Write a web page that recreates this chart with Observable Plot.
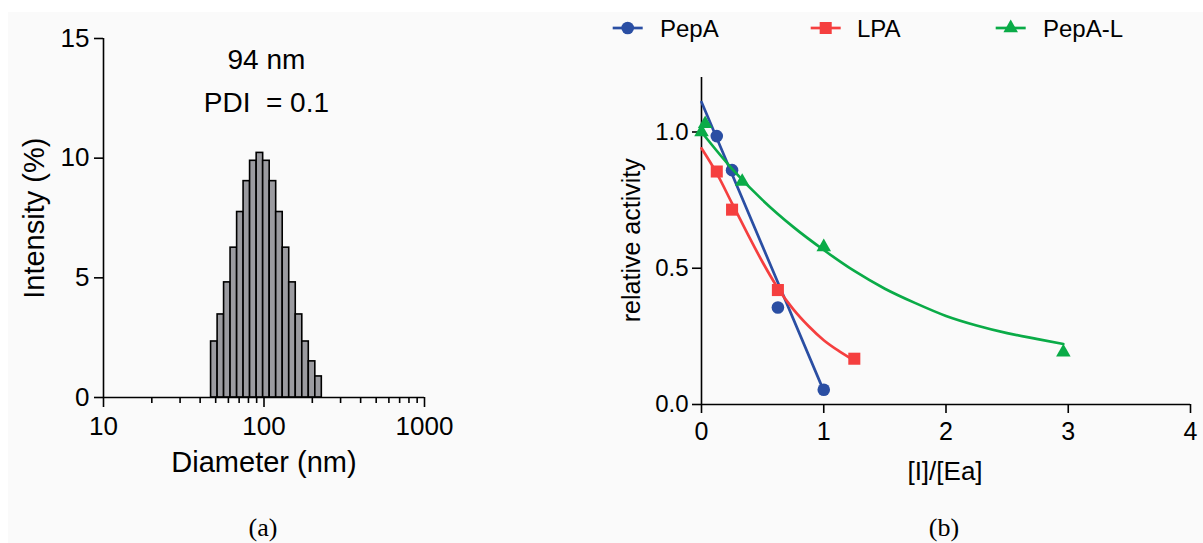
<!DOCTYPE html>
<html>
<head>
<meta charset="utf-8">
<script src="https://cdn.jsdelivr.net/npm/d3@7"></script>
<script src="https://cdn.jsdelivr.net/npm/@observablehq/plot@0.6"></script>
<style>
  html, body { margin: 0; padding: 0; background: #ffffff; }
  #root { position: relative; width: 1203px; height: 543px; overflow: hidden; font-family: "Liberation Sans", Arial, sans-serif; color: #000; }
  #panel { position: absolute; left: 8px; top: 12px; right: 0; bottom: 0; background: #fafafa; }
  .abs { position: absolute; line-height: 1; white-space: pre; }
  .plot { position: absolute; top: 0; }
  .cap { font-family: "Liberation Serif", "Times New Roman", serif; }
</style>
</head>
<body>
<div id="root">
  <div id="panel"></div>
</div>
<script>
// ---------- Panel (a): DLS size distribution ----------
const binEdgesNm = [46.8, 51.4, 56.4, 61.9, 68.0, 74.6, 81.9, 90.0, 98.8, 108.5, 119.1, 130.8, 143.6, 157.7, 173.2, 190.1, 208.8, 229.2];
const intensityPct = [2.34, 3.47, 4.81, 6.26, 7.75, 9.04, 9.89, 10.22, 9.89, 9.04, 7.75, 6.26, 4.81, 3.47, 2.34, 1.51, 0.88];
const diamMajorTicks = [10, 100, 1000];
const diamMinorTicks = [20, 30, 40, 50, 60, 70, 80, 90, 200, 300, 400, 500, 600, 700, 800, 900];
const intensityTicks = [0, 5, 10, 15];
const annotA = ["94 nm", "PDI  = 0.1"];
const annotAY = [14.1, 12.3];
const annotAX = 103.5;

// ---------- Panel (b): inhibition ----------
const seriesNames = ["PepA", "LPA", "PepA-L"];
const seriesColors = ["#2a4ea3", "#f53f3f", "#0aab47"];
const pepARatio = [0.125, 0.25, 0.625, 1.0];
const pepAAct   = [0.985, 0.86, 0.356, 0.054];
const lpaRatio  = [0.125, 0.25, 0.625, 1.25];
const lpaAct    = [0.855, 0.715, 0.42, 0.168];
const pepALRatio = [0, 0.03, 0.333, 1.0, 2.96];
const pepALAct   = [1.0, 1.03, 0.818, 0.578, 0.192];
// fitted curves
const pepAFitX = [0, 1.0];
const pepAFitY = [1.11, 0.05];
const lpaFitX = [0, 0.125, 0.25, 0.375, 0.5, 0.625, 0.75, 0.875, 1.0, 1.125, 1.21];
const lpaFitY = [0.94, 0.848, 0.738, 0.628, 0.522, 0.427, 0.35, 0.288, 0.236, 0.196, 0.172];
const pepALFitX = [0, 0.25, 0.5, 0.75, 1.0, 1.25, 1.5, 1.75, 2.0, 2.25, 2.5, 2.75, 2.96];
const pepALFitY = [1.0, 0.865, 0.75, 0.652, 0.567, 0.49, 0.425, 0.372, 0.325, 0.29, 0.262, 0.24, 0.222];
const ratioTicks = [0, 1, 2, 3, 4];
const actTicks = [0, 0.5, 1.0];

const root = document.getElementById("root");
const font = '"Liberation Sans", Arial, sans-serif';

// ----- left plot -----
const bins = intensityPct.map((v, i) => ({lo: binEdgesNm[i], hi: binEdgesNm[i + 1], v}));
const left = Plot.plot({
  width: 470, height: 490,
  marginLeft: 103, marginRight: 46, marginTop: 38, marginBottom: 93,
  x: {type: "log", domain: [10, 1000]},
  y: {domain: [0, 15]},
  style: {background: "transparent", fontFamily: font, fontSize: "26px", color: "#000", overflow: "visible"},
  marks: [
    Plot.rectY(bins, {x1: "lo", x2: "hi", y: "v", fill: "#9b9ba0", stroke: "#000", strokeWidth: 1.6}),
    Plot.ruleY([0], {stroke: "#000", strokeWidth: 1.6}),
    Plot.ruleX([10], {stroke: "#000", strokeWidth: 1.6}),
    Plot.axisX(diamMajorTicks, {tickSize: 10, tickPadding: 9, tickFormat: d => String(d), strokeWidth: 1.6, label: null, fontSize: 26}),
    Plot.axisX(diamMinorTicks, {tickSize: 6, tickFormat: () => "", strokeWidth: 1.6, label: null}),
    Plot.axisY(intensityTicks, {tickSize: 9, tickPadding: 5, tickFormat: d => String(d), strokeWidth: 1.6, label: null, fontSize: 26}),
    Plot.text(annotA, {x: () => annotAX, y: (d, i) => annotAY[i], text: d => d, fontSize: 28, fill: "#000"})
  ]
});
left.classList.add("plot");
left.style.left = "0px";
root.appendChild(left);

// ----- right plot -----
const mk = (xs, ys) => xs.map((x, i) => ({x, y: ys[i]}));
const right = Plot.plot({
  width: 603, height: 490,
  marginLeft: 101, marginRight: 13, marginTop: 77, marginBottom: 86,
  x: {domain: [0, 4]},
  y: {domain: [0, 1.2]},
  style: {background: "transparent", fontFamily: font, fontSize: "24px", color: "#000", overflow: "visible"},
  marks: [
    Plot.ruleY([0], {stroke: "#000", strokeWidth: 1.6}),
    Plot.ruleX([0], {stroke: "#000", strokeWidth: 1.6}),
    Plot.axisX(ratioTicks, {tickSize: 9, tickPadding: 9, tickFormat: d => String(d), strokeWidth: 1.6, label: null, fontSize: 25}),
    Plot.axisY(actTicks, {tickSize: 9, tickPadding: 4, tickFormat: d => d.toFixed(1), strokeWidth: 1.6, label: null, fontSize: 24}),
    Plot.line(mk(pepAFitX, pepAFitY), {x: "x", y: "y", stroke: seriesColors[0], strokeWidth: 2.7}),
    Plot.dot(mk(pepARatio, pepAAct), {x: "x", y: "y", fill: seriesColors[0], r: 6.3, symbol: "circle"}),
    Plot.line(mk(lpaFitX, lpaFitY), {x: "x", y: "y", stroke: seriesColors[1], strokeWidth: 2.7, curve: "monotone-x"}),
    Plot.dot(mk(lpaRatio, lpaAct), {x: "x", y: "y", fill: seriesColors[1], r: 6.8, symbol: "square"}),
    Plot.line(mk(pepALFitX, pepALFitY), {x: "x", y: "y", stroke: seriesColors[2], strokeWidth: 2.7, curve: "monotone-x"}),
    Plot.dot(mk(pepALRatio, pepALAct), {x: "x", y: "y", fill: seriesColors[2], r: 5.4, symbol: "triangle"})
  ]
});
right.classList.add("plot");
right.style.left = "600px";
root.appendChild(right);

// ----- HTML text (titles, captions) -----
function addText(txt, x, y, size, opts = {}) {
  const d = document.createElement("div");
  d.className = "abs" + (opts.cls ? " " + opts.cls : "");
  d.textContent = txt;
  d.style.fontSize = size + "px";
  d.style.left = x + "px";
  d.style.top = (y - 0.49 * size) + "px";
  let tf = "translateX(-50%)";
  if (opts.rotate) { tf = "translate(-50%, 0) rotate(-90deg)"; d.style.transformOrigin = "50% " + (0.49 * size) + "px"; }
  d.style.transform = tf;
  root.appendChild(d);
  return d;
}
addText("Intensity (%)", 34, 218, 29, {rotate: true});
addText("Diameter (nm)", 264, 462, 29);
addText("(a)", 263, 528, 26, {cls: "cap"});
addText("relative activity", 631, 240, 25, {rotate: true});
addText("[I]/[Ea]", 945, 471, 26);
addText("(b)", 944, 528, 26, {cls: "cap"});

// ----- legend -----
const legendX = [612.7, 810.7, 995.7];
const legendTextX = [660, 857, 1043];
const legendSymbols = ["circle", "square", "triangle"];
const legendY = 28;
const lg = document.createElementNS("http://www.w3.org/2000/svg", "svg");
lg.setAttribute("width", 1203); lg.setAttribute("height", 60);
lg.style.position = "absolute"; lg.style.left = "0px"; lg.style.top = "0px";
seriesNames.forEach((name, i) => {
  const x0 = legendX[i], cx = x0 + 15;
  const line = document.createElementNS(lg.namespaceURI, "line");
  line.setAttribute("x1", x0); line.setAttribute("x2", x0 + 30);
  line.setAttribute("y1", legendY); line.setAttribute("y2", legendY);
  line.setAttribute("stroke", seriesColors[i]); line.setAttribute("stroke-width", 2.7);
  lg.appendChild(line);
  const sym = {circle: d3.symbolCircle, square: d3.symbolSquare, triangle: d3.symbolTriangle}[legendSymbols[i]];
  const size = [Math.PI * 6.3 * 6.3, Math.PI * 6.8 * 6.8, Math.PI * 5.4 * 5.4][i];
  const p = document.createElementNS(lg.namespaceURI, "path");
  p.setAttribute("d", d3.symbol(sym, size)());
  p.setAttribute("transform", `translate(${cx},${legendY})`);
  p.setAttribute("fill", seriesColors[i]);
  lg.appendChild(p);
  const t = document.createElementNS(lg.namespaceURI, "text");
  t.setAttribute("x", legendTextX[i]); t.setAttribute("y", legendY); t.setAttribute("dy", "0.36em");
  t.setAttribute("font-size", 24); t.setAttribute("font-family", font);
  t.textContent = name;
  lg.appendChild(t);
});
root.appendChild(lg);
</script>
</body>
</html>
